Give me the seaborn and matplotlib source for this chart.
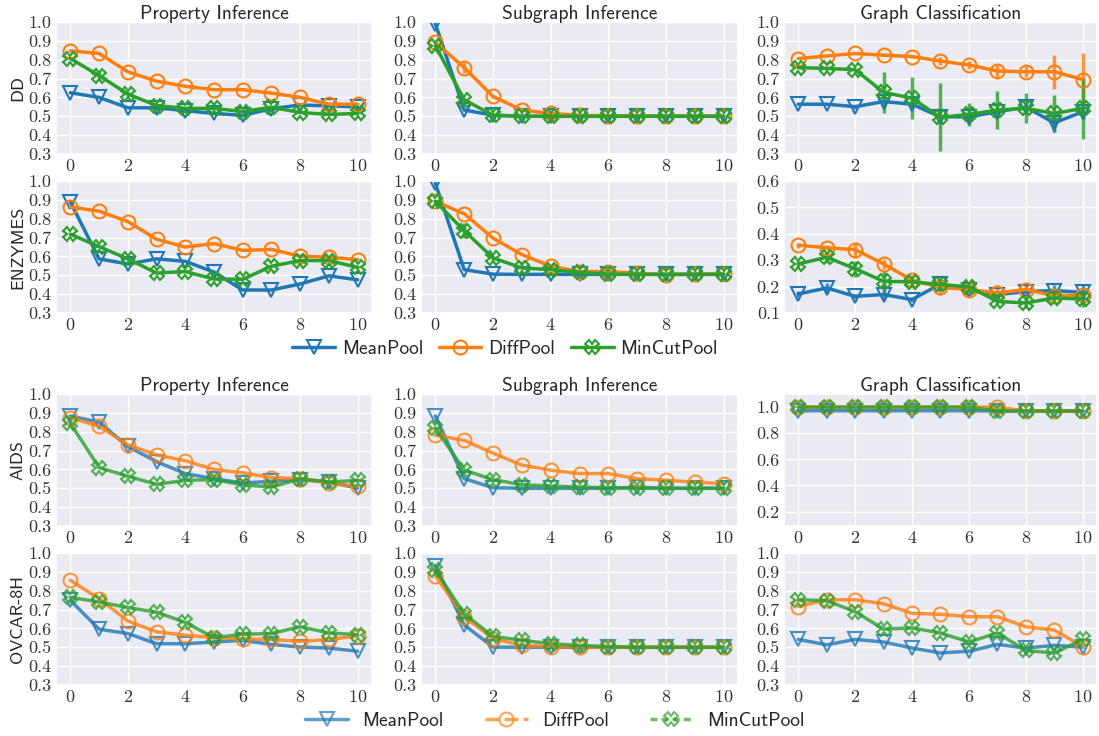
import matplotlib
matplotlib.use("Agg")
import matplotlib.pyplot as plt
import seaborn as sns
import pandas as pd
from matplotlib.lines import Line2D
from matplotlib.ticker import MultipleLocator, FormatStrFormatter

# ---------------------------------------------------------------- data
steps = list(range(11))
models = ["MeanPool", "DiffPool", "MinCutPool"]
datasets = ["DD", "ENZYMES", "AIDS", "OVCAR-8H"]
tasks = ["Property Inference", "Subgraph Inference", "Graph Classification"]

# DD
dd_prop_meanpool = [0.625, 0.60, 0.545, 0.545, 0.53, 0.515, 0.505, 0.54, 0.56, 0.555, 0.55]
dd_prop_diffpool = [0.847, 0.833, 0.736, 0.686, 0.659, 0.641, 0.641, 0.623, 0.60, 0.564, 0.564]
dd_prop_mincut = [0.806, 0.716, 0.618, 0.557, 0.542, 0.542, 0.525, 0.548, 0.52, 0.51, 0.515]
dd_sub_meanpool = [0.99, 0.533, 0.506, 0.50, 0.50, 0.50, 0.50, 0.50, 0.50, 0.50, 0.50]
dd_sub_diffpool = [0.892, 0.758, 0.605, 0.533, 0.515, 0.505, 0.503, 0.502, 0.50, 0.50, 0.50]
dd_sub_mincut = [0.874, 0.587, 0.506, 0.50, 0.50, 0.50, 0.50, 0.50, 0.50, 0.50, 0.50]
dd_gc_meanpool = [0.564, 0.564, 0.551, 0.578, 0.564, 0.497, 0.497, 0.524, 0.548, 0.465, 0.524]
dd_gc_diffpool = [0.806, 0.82, 0.833, 0.824, 0.817, 0.793, 0.772, 0.74, 0.736, 0.736, 0.695]
dd_gc_mincut = [0.758, 0.754, 0.747, 0.627, 0.596, 0.494, 0.51, 0.533, 0.542, 0.515, 0.542]
dd_gc_meanpool_err = [0.0, 0.0, 0.01, 0.03, 0.02, 0.01, 0.04, 0.02, 0.02, 0.05, 0.04]
dd_gc_diffpool_err = [0.0, 0.0, 0.0, 0.0, 0.01, 0.02, 0.02, 0.03, 0.03, 0.09, 0.14]
dd_gc_mincut_err = [0.0, 0.0, 0.0, 0.11, 0.11, 0.18, 0.06, 0.10, 0.08, 0.10, 0.16]
dd_prop_mincut_err = [0.0, 0.03, 0.01, 0.01, 0.0, 0.0, 0.0, 0.0, 0.0, 0.0, 0.0]
dd_sub_diffpool_err = [0.0, 0.03, 0.01, 0.0, 0.0, 0.0, 0.0, 0.0, 0.0, 0.0, 0.0]

# ENZYMES
enz_prop_meanpool = [0.889, 0.587, 0.56, 0.587, 0.574, 0.517, 0.422, 0.422, 0.454, 0.497, 0.476]
enz_prop_diffpool = [0.862, 0.84, 0.785, 0.691, 0.65, 0.668, 0.632, 0.637, 0.601, 0.596, 0.583]
enz_prop_mincut = [0.718, 0.652, 0.587, 0.512, 0.52, 0.48, 0.479, 0.548, 0.578, 0.578, 0.542]
enz_sub_meanpool = [0.987, 0.53, 0.506, 0.505, 0.505, 0.505, 0.505, 0.505, 0.505, 0.505, 0.505]
enz_sub_diffpool = [0.892, 0.826, 0.697, 0.61, 0.548, 0.52, 0.52, 0.51, 0.503, 0.506, 0.507]
enz_sub_mincut = [0.892, 0.736, 0.592, 0.539, 0.53, 0.515, 0.506, 0.505, 0.505, 0.505, 0.505]
enz_gc_meanpool = [0.172, 0.195, 0.163, 0.17, 0.151, 0.21, 0.186, 0.17, 0.181, 0.185, 0.178]
enz_gc_diffpool = [0.357, 0.347, 0.34, 0.286, 0.224, 0.197, 0.189, 0.176, 0.189, 0.166, 0.167]
enz_gc_mincut = [0.286, 0.311, 0.268, 0.22, 0.218, 0.208, 0.199, 0.144, 0.138, 0.157, 0.153]
enz_gc_meanpool_err = [0.01, 0.02, 0.01, 0.02, 0.01, 0.01, 0.01, 0.01, 0.03, 0.02, 0.03]
enz_gc_diffpool_err = [0.01, 0.01, 0.03, 0.02, 0.02, 0.03, 0.01, 0.03, 0.02, 0.01, 0.01]
enz_gc_mincut_err = [0.01, 0.02, 0.03, 0.04, 0.01, 0.01, 0.01, 0.01, 0.02, 0.01, 0.03]
enz_sub_mincut_err = [0.0, 0.04, 0.01, 0.0, 0.0, 0.0, 0.0, 0.0, 0.0, 0.0, 0.0]

# AIDS
aids_prop_meanpool = [0.883, 0.851, 0.722, 0.641, 0.578, 0.551, 0.528, 0.537, 0.546, 0.533, 0.501]
aids_prop_diffpool = [0.874, 0.829, 0.731, 0.677, 0.646, 0.60, 0.582, 0.557, 0.551, 0.528, 0.51]
aids_prop_mincut = [0.844, 0.61, 0.564, 0.521, 0.542, 0.546, 0.519, 0.506, 0.551, 0.533, 0.542]
aids_sub_meanpool = [0.883, 0.551, 0.503, 0.50, 0.50, 0.50, 0.50, 0.505, 0.50, 0.50, 0.50]
aids_sub_diffpool = [0.781, 0.754, 0.686, 0.623, 0.596, 0.578, 0.578, 0.551, 0.542, 0.533, 0.524]
aids_sub_mincut = [0.82, 0.596, 0.546, 0.519, 0.512, 0.506, 0.503, 0.50, 0.50, 0.50, 0.50]
aids_gc_meanpool = [0.972, 0.972, 0.972, 0.972, 0.972, 0.972, 0.972, 0.97, 0.97, 0.97, 0.97]
aids_gc_diffpool = [1.0, 1.0, 1.0, 1.0, 1.0, 1.0, 1.0, 1.0, 0.97, 0.97, 0.97]
aids_gc_mincut = [1.0, 1.0, 1.0, 1.0, 1.0, 1.0, 1.0, 0.97, 0.97, 0.97, 0.97]

# OVCAR-8H
ovc_prop_meanpool = [0.749, 0.596, 0.573, 0.519, 0.519, 0.528, 0.537, 0.515, 0.501, 0.496, 0.479]
ovc_prop_diffpool = [0.855, 0.758, 0.639, 0.582, 0.564, 0.551, 0.544, 0.542, 0.531, 0.542, 0.56]
ovc_prop_mincut = [0.765, 0.74, 0.711, 0.686, 0.632, 0.551, 0.569, 0.573, 0.609, 0.576, 0.567]
ovc_sub_meanpool = [0.932, 0.618, 0.501, 0.50, 0.50, 0.50, 0.50, 0.50, 0.50, 0.50, 0.50]
ovc_sub_diffpool = [0.878, 0.662, 0.546, 0.51, 0.504, 0.50, 0.50, 0.50, 0.50, 0.50, 0.50]
ovc_sub_mincut = [0.91, 0.677, 0.558, 0.537, 0.519, 0.51, 0.504, 0.50, 0.50, 0.50, 0.50]
ovc_gc_meanpool = [0.542, 0.513, 0.542, 0.528, 0.496, 0.47, 0.479, 0.515, 0.496, 0.51, 0.501]
ovc_gc_diffpool = [0.716, 0.752, 0.752, 0.731, 0.68, 0.675, 0.662, 0.662, 0.609, 0.591, 0.504]
ovc_gc_mincut = [0.752, 0.747, 0.689, 0.596, 0.603, 0.576, 0.528, 0.576, 0.483, 0.469, 0.542]

panels = {
    ("DD", 0): (dd_prop_meanpool, dd_prop_diffpool, dd_prop_mincut),
    ("DD", 1): (dd_sub_meanpool, dd_sub_diffpool, dd_sub_mincut),
    ("DD", 2): (dd_gc_meanpool, dd_gc_diffpool, dd_gc_mincut),
    ("ENZYMES", 0): (enz_prop_meanpool, enz_prop_diffpool, enz_prop_mincut),
    ("ENZYMES", 1): (enz_sub_meanpool, enz_sub_diffpool, enz_sub_mincut),
    ("ENZYMES", 2): (enz_gc_meanpool, enz_gc_diffpool, enz_gc_mincut),
    ("AIDS", 0): (aids_prop_meanpool, aids_prop_diffpool, aids_prop_mincut),
    ("AIDS", 1): (aids_sub_meanpool, aids_sub_diffpool, aids_sub_mincut),
    ("AIDS", 2): (aids_gc_meanpool, aids_gc_diffpool, aids_gc_mincut),
    ("OVCAR-8H", 0): (ovc_prop_meanpool, ovc_prop_diffpool, ovc_prop_mincut),
    ("OVCAR-8H", 1): (ovc_sub_meanpool, ovc_sub_diffpool, ovc_sub_mincut),
    ("OVCAR-8H", 2): (ovc_gc_meanpool, ovc_gc_diffpool, ovc_gc_mincut),
}
errors = {
    ("DD", 0): (None, None, dd_prop_mincut_err),
    ("DD", 1): (None, dd_sub_diffpool_err, None),
    ("DD", 2): (dd_gc_meanpool_err, dd_gc_diffpool_err, dd_gc_mincut_err),
    ("ENZYMES", 1): (None, None, enz_sub_mincut_err),
    ("ENZYMES", 2): (enz_gc_meanpool_err, enz_gc_diffpool_err, enz_gc_mincut_err),
}

# ---------------------------------------------------------------- style
sns.set_theme(style="darkgrid")
plt.rcParams["font.family"] = ["cmr10", "DejaVu Sans"]
plt.rcParams["axes.formatter.use_mathtext"] = True
plt.rcParams["mathtext.fontset"] = "cm"

palette = {"MeanPool": "#1f77b4", "DiffPool": "#ff7f0e", "MinCutPool": "#2ca02c"}
marker_map = {"MeanPool": "v", "DiffPool": "o", "MinCutPool": "X"}
SANS = ["cmss10", "DejaVu Sans"]

W, H = 1099, 736
fig = plt.figure(figsize=(W / 100, H / 100), dpi=100)

col_left = [56, 421, 784]
col_width = [316, 317, 313]
row_top = [22, 181, 394, 553]
row_h = 132

for r, ds in enumerate(datasets):
    faded = r >= 2
    for c in range(3):
        x0 = col_left[c] / W
        y0 = 1 - (row_top[r] + row_h) / H
        ax = fig.add_axes([x0, y0, col_width[c] / W, row_h / H])
        series = panels[(ds, c)]
        df = pd.concat([
            pd.DataFrame({"step": steps, "acc": vals, "model": m})
            for m, vals in zip(models, series)
        ], ignore_index=True)
        sns.lineplot(data=df, x="step", y="acc", hue="model", style="model",
                     hue_order=models, style_order=models, palette=palette,
                     markers=marker_map, dashes=False, linewidth=2.5,
                     markersize=10, errorbar=None, legend=False, ax=ax)
        for line in ax.lines:
            col = line.get_color()
            line.set_markerfacecolor("none")
            line.set_markeredgecolor(col)
            line.set_markeredgewidth(1.5)
            if faded:
                line.set_alpha(0.8)
        errs = errors.get((ds, c))
        if errs is not None:
            for m, vals, e in zip(models, series, errs):
                if e is None:
                    continue
                ax.errorbar(steps, vals, yerr=e, fmt="none", ecolor=palette[m],
                            elinewidth=2.5, capsize=0, alpha=0.8, zorder=1.5)

        # axes limits and ticks
        if ds == "ENZYMES" and c == 2:
            ax.set_ylim(0.1, 0.6)
            ax.yaxis.set_major_locator(MultipleLocator(0.1))
        elif ds == "AIDS" and c == 2:
            ax.set_ylim(0.09, 1.1)
            ax.yaxis.set_major_locator(MultipleLocator(0.2))
        else:
            ax.set_ylim(0.3, 1.0)
            ax.yaxis.set_major_locator(MultipleLocator(0.1))
        ax.set_xlim(-0.5, 10.5)
        ax.xaxis.set_major_locator(MultipleLocator(2))
        ax.yaxis.set_major_formatter(FormatStrFormatter("%.1f"))
        ax.tick_params(axis="both", labelsize=13, length=0, pad=3, colors="#333333")
        ax.set_xlabel("")
        if c == 0:
            ax.set_ylabel(ds, fontsize=13, fontfamily=SANS)
            ax.yaxis.set_label_coords(-0.098, 0.5)
        else:
            ax.set_ylabel("")
        if r in (0, 2):
            ax.set_title(tasks[c], fontsize=14, fontfamily=SANS, pad=2)

# ---------------------------------------------------------------- legends
def handle(m, **kw):
    return Line2D([], [], color=palette[m], marker=marker_map[m], markersize=10,
                  markerfacecolor="none", markeredgecolor=palette[m],
                  markeredgewidth=1.5, linewidth=2.5, **kw)

top_handles = [handle(m) for m in models]
fig.legend(top_handles, models, loc="center", bbox_to_anchor=(505 / W, 1 - 349 / H),
           ncol=3, frameon=False, handlelength=2.2, handletextpad=0.35,
           columnspacing=0.8, borderpad=0.1, prop={"family": SANS, "size": 14})

bottom_handles = [
    handle("MeanPool", alpha=0.7),
    handle("DiffPool", alpha=0.7, dashes=(4, 1.5)),
    handle("MinCutPool", alpha=0.7, dashes=(2, 1.2)),
]
fig.legend(bottom_handles, models, loc="center", bbox_to_anchor=(555 / W, 1 - 721 / H),
           ncol=3, frameon=False, handlelength=2.2, handletextpad=0.75,
           columnspacing=2.1, borderpad=0.1, prop={"family": SANS, "size": 14})

fig.savefig("out.png", dpi=100)
